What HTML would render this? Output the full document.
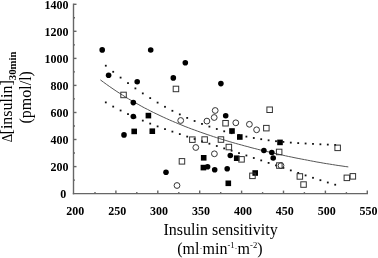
<!DOCTYPE html>
<html><head><meta charset="utf-8"><style>
html,body{margin:0;padding:0;background:#fff;}
body{width:378px;height:258px;position:relative;overflow:hidden;font-family:"Liberation Serif",serif;}
</style></head><body>
<svg width="378" height="258" viewBox="0 0 378 258" style="position:absolute;left:0;top:0;will-change:transform">
<g stroke="#666" stroke-width="1.4" fill="none">
<line x1="73.5" y1="3.6" x2="73.5" y2="194.29999999999998"/>
<line x1="72.8" y1="193.6" x2="368" y2="193.6"/>
<line x1="73.5" y1="180.1" x2="75.0" y2="180.1"/>
<line x1="73.5" y1="166.6" x2="76.5" y2="166.6"/>
<line x1="73.5" y1="153.0" x2="75.0" y2="153.0"/>
<line x1="73.5" y1="139.5" x2="76.5" y2="139.5"/>
<line x1="73.5" y1="126.0" x2="75.0" y2="126.0"/>
<line x1="73.5" y1="112.5" x2="76.5" y2="112.5"/>
<line x1="73.5" y1="98.9" x2="75.0" y2="98.9"/>
<line x1="73.5" y1="85.4" x2="76.5" y2="85.4"/>
<line x1="73.5" y1="71.9" x2="75.0" y2="71.9"/>
<line x1="73.5" y1="58.4" x2="76.5" y2="58.4"/>
<line x1="73.5" y1="44.9" x2="75.0" y2="44.9"/>
<line x1="73.5" y1="31.3" x2="76.5" y2="31.3"/>
<line x1="73.5" y1="17.8" x2="75.0" y2="17.8"/>
<line x1="73.5" y1="4.3" x2="76.5" y2="4.3"/>
<line x1="95.0" y1="193.6" x2="95.0" y2="192.1"/>
<line x1="115.9" y1="193.6" x2="115.9" y2="190.6"/>
<line x1="136.8" y1="193.6" x2="136.8" y2="192.1"/>
<line x1="157.8" y1="193.6" x2="157.8" y2="190.6"/>
<line x1="178.8" y1="193.6" x2="178.8" y2="192.1"/>
<line x1="199.7" y1="193.6" x2="199.7" y2="190.6"/>
<line x1="220.7" y1="193.6" x2="220.7" y2="192.1"/>
<line x1="241.6" y1="193.6" x2="241.6" y2="190.6"/>
<line x1="262.6" y1="193.6" x2="262.6" y2="192.1"/>
<line x1="283.5" y1="193.6" x2="283.5" y2="190.6"/>
<line x1="304.4" y1="193.6" x2="304.4" y2="192.1"/>
<line x1="325.4" y1="193.6" x2="325.4" y2="190.6"/>
<line x1="346.4" y1="193.6" x2="346.4" y2="192.1"/>
<line x1="367.3" y1="193.6" x2="367.3" y2="190.6"/>
</g>
<path d="M100.4,79.9 L103.5,82.2 L106.7,84.5 L109.8,86.7 L113.0,88.9 L116.1,91.0 L119.2,93.0 L122.4,95.0 L125.5,97.0 L128.6,98.9 L131.8,100.8 L134.9,102.6 L138.1,104.3 L141.2,106.1 L144.3,107.8 L147.5,109.4 L150.6,111.0 L153.7,112.6 L156.9,114.1 L160.0,115.6 L163.2,117.1 L166.3,118.5 L169.4,119.9 L172.6,121.3 L175.7,122.6 L178.8,123.9 L182.0,125.2 L185.1,126.5 L188.3,127.7 L191.4,128.9 L194.5,130.0 L197.7,131.2 L200.8,132.3 L204.0,133.4 L207.1,134.5 L210.2,135.5 L213.4,136.6 L216.5,137.6 L219.6,138.6 L222.8,139.6 L225.9,140.5 L229.1,141.5 L232.2,142.4 L235.3,143.3 L238.5,144.2 L241.6,145.0 L244.7,145.9 L247.9,146.7 L251.0,147.6 L254.2,148.4 L257.3,149.2 L260.4,150.0 L263.6,150.7 L266.7,151.5 L269.9,152.2 L273.0,153.0 L276.1,153.7 L279.3,154.4 L282.4,155.1 L285.5,155.8 L288.7,156.5 L291.8,157.1 L295.0,157.8 L298.1,158.4 L301.2,159.0 L304.4,159.6 L307.5,160.2 L310.6,160.8 L313.8,161.4 L316.9,162.0 L320.1,162.5 L323.2,163.1 L326.3,163.6 L329.5,164.1 L332.6,164.6 L335.7,165.1 L338.9,165.6 L342.0,166.0 L345.2,166.5 L348.3,166.9" stroke="#555" stroke-width="1" fill="none"/>
<g fill="#111"><rect x="104.9" y="64.8" width="1.8" height="1.8"/><rect x="104.9" y="101.5" width="1.8" height="1.8"/><rect x="112.3" y="70.9" width="1.8" height="1.8"/><rect x="112.3" y="105.7" width="1.8" height="1.8"/><rect x="119.7" y="76.7" width="1.8" height="1.8"/><rect x="119.7" y="109.6" width="1.8" height="1.8"/><rect x="127.1" y="82.2" width="1.8" height="1.8"/><rect x="127.1" y="113.2" width="1.8" height="1.8"/><rect x="134.5" y="87.5" width="1.8" height="1.8"/><rect x="134.5" y="116.5" width="1.8" height="1.8"/><rect x="141.9" y="92.5" width="1.8" height="1.8"/><rect x="141.9" y="119.7" width="1.8" height="1.8"/><rect x="149.3" y="97.2" width="1.8" height="1.8"/><rect x="149.3" y="122.7" width="1.8" height="1.8"/><rect x="156.7" y="101.7" width="1.8" height="1.8"/><rect x="156.7" y="125.5" width="1.8" height="1.8"/><rect x="164.1" y="105.9" width="1.8" height="1.8"/><rect x="164.1" y="128.2" width="1.8" height="1.8"/><rect x="171.5" y="109.9" width="1.8" height="1.8"/><rect x="171.5" y="130.7" width="1.8" height="1.8"/><rect x="178.9" y="113.5" width="1.8" height="1.8"/><rect x="178.9" y="133.2" width="1.8" height="1.8"/><rect x="186.3" y="117.0" width="1.8" height="1.8"/><rect x="186.3" y="135.7" width="1.8" height="1.8"/><rect x="193.7" y="120.1" width="1.8" height="1.8"/><rect x="193.7" y="138.1" width="1.8" height="1.8"/><rect x="201.1" y="123.0" width="1.8" height="1.8"/><rect x="201.1" y="140.4" width="1.8" height="1.8"/><rect x="208.5" y="125.7" width="1.8" height="1.8"/><rect x="208.5" y="142.8" width="1.8" height="1.8"/><rect x="215.9" y="128.1" width="1.8" height="1.8"/><rect x="215.9" y="145.1" width="1.8" height="1.8"/><rect x="223.3" y="130.4" width="1.8" height="1.8"/><rect x="223.3" y="147.5" width="1.8" height="1.8"/><rect x="230.7" y="132.3" width="1.8" height="1.8"/><rect x="230.7" y="149.8" width="1.8" height="1.8"/><rect x="238.1" y="134.1" width="1.8" height="1.8"/><rect x="238.1" y="152.2" width="1.8" height="1.8"/><rect x="245.5" y="135.7" width="1.8" height="1.8"/><rect x="245.5" y="154.6" width="1.8" height="1.8"/><rect x="252.9" y="137.1" width="1.8" height="1.8"/><rect x="252.9" y="157.1" width="1.8" height="1.8"/><rect x="260.3" y="138.3" width="1.8" height="1.8"/><rect x="260.3" y="159.5" width="1.8" height="1.8"/><rect x="267.7" y="139.4" width="1.8" height="1.8"/><rect x="267.7" y="162.0" width="1.8" height="1.8"/><rect x="275.1" y="140.3" width="1.8" height="1.8"/><rect x="275.1" y="164.5" width="1.8" height="1.8"/><rect x="282.5" y="141.0" width="1.8" height="1.8"/><rect x="282.5" y="167.0" width="1.8" height="1.8"/><rect x="289.9" y="141.7" width="1.8" height="1.8"/><rect x="289.9" y="169.5" width="1.8" height="1.8"/><rect x="297.3" y="142.2" width="1.8" height="1.8"/><rect x="297.3" y="172.0" width="1.8" height="1.8"/><rect x="304.7" y="142.6" width="1.8" height="1.8"/><rect x="304.7" y="174.5" width="1.8" height="1.8"/><rect x="312.1" y="143.0" width="1.8" height="1.8"/><rect x="312.1" y="176.9" width="1.8" height="1.8"/><rect x="319.5" y="143.4" width="1.8" height="1.8"/><rect x="319.5" y="179.3" width="1.8" height="1.8"/><rect x="326.9" y="143.7" width="1.8" height="1.8"/><rect x="326.9" y="181.6" width="1.8" height="1.8"/><rect x="334.3" y="144.0" width="1.8" height="1.8"/><rect x="334.3" y="183.8" width="1.8" height="1.8"/></g>
<g fill="#000"><circle cx="102.2" cy="49.9" r="2.8"/><circle cx="150.7" cy="50.0" r="2.8"/><circle cx="185.3" cy="62.8" r="2.8"/><circle cx="108.6" cy="75.3" r="2.8"/><circle cx="137.2" cy="81.7" r="2.8"/><circle cx="173.3" cy="77.9" r="2.8"/><circle cx="220.9" cy="83.6" r="2.8"/><circle cx="133.3" cy="102.6" r="2.8"/><circle cx="133.3" cy="116.5" r="2.8"/><circle cx="124.0" cy="134.9" r="2.8"/><circle cx="225.7" cy="115.7" r="2.8"/><circle cx="230.3" cy="155.5" r="2.8"/><circle cx="207.6" cy="166.7" r="2.8"/><circle cx="214.7" cy="169.8" r="2.8"/><circle cx="227.2" cy="168.8" r="2.8"/><circle cx="166.0" cy="172.3" r="2.8"/><circle cx="263.9" cy="150.5" r="2.8"/><circle cx="271.8" cy="152.5" r="2.8"/><circle cx="273.2" cy="158.0" r="2.8"/></g>
<g fill="#000"><rect x="145.6" y="112.8" width="5.6" height="5.6"/><rect x="131.4" y="128.6" width="5.6" height="5.6"/><rect x="149.5" y="128.4" width="5.6" height="5.6"/><rect x="229.2" y="128.2" width="5.6" height="5.6"/><rect x="237.0" y="134.2" width="5.6" height="5.6"/><rect x="200.9" y="155.0" width="5.6" height="5.6"/><rect x="233.9" y="155.4" width="5.6" height="5.6"/><rect x="200.6" y="164.8" width="5.6" height="5.6"/><rect x="225.5" y="180.5" width="5.6" height="5.6"/><rect x="252.4" y="170.2" width="5.6" height="5.6"/><rect x="277.2" y="139.6" width="5.6" height="5.6"/></g>
<g fill="none" stroke="#333" stroke-width="1"><circle cx="180.7" cy="120.5" r="2.9"/><circle cx="215.2" cy="110.5" r="2.9"/><circle cx="214.2" cy="117.5" r="2.9"/><circle cx="206.9" cy="121.1" r="2.9"/><circle cx="235.8" cy="122.8" r="2.9"/><circle cx="249.4" cy="124.3" r="2.9"/><circle cx="256.6" cy="129.8" r="2.9"/><circle cx="195.8" cy="147.5" r="2.9"/><circle cx="214.4" cy="153.8" r="2.9"/><circle cx="177.0" cy="185.5" r="2.9"/><circle cx="281.0" cy="165.6" r="2.9"/></g>
<g fill="none" stroke="#333" stroke-width="1"><rect x="120.8" y="92.2" width="5.5" height="5.5"/><rect x="173.2" y="86.2" width="5.5" height="5.5"/><rect x="222.8" y="120.5" width="5.5" height="5.5"/><rect x="266.9" y="107.0" width="5.5" height="5.5"/><rect x="263.6" y="125.4" width="5.5" height="5.5"/><rect x="189.6" y="136.9" width="5.5" height="5.5"/><rect x="201.9" y="136.8" width="5.5" height="5.5"/><rect x="218.2" y="136.8" width="5.5" height="5.5"/><rect x="226.1" y="144.3" width="5.5" height="5.5"/><rect x="238.8" y="156.6" width="5.5" height="5.5"/><rect x="276.4" y="149.2" width="5.5" height="5.5"/><rect x="276.6" y="162.8" width="5.5" height="5.5"/><rect x="179.2" y="158.6" width="5.5" height="5.5"/><rect x="249.7" y="173.1" width="5.5" height="5.5"/><rect x="297.1" y="173.7" width="5.5" height="5.5"/><rect x="300.8" y="181.8" width="5.5" height="5.5"/><rect x="334.9" y="145.1" width="5.5" height="5.5"/><rect x="344.1" y="175.1" width="5.5" height="5.5"/><rect x="350.1" y="173.6" width="5.5" height="5.5"/></g>
<g font-family="Liberation Serif" font-weight="bold" font-size="12" fill="#000"><text x="66.2" y="198.3" text-anchor="end">0</text><text x="68.6" y="171.2" text-anchor="end">200</text><text x="68.6" y="144.1" text-anchor="end">400</text><text x="68.6" y="117.1" text-anchor="end">600</text><text x="68.6" y="90.0" text-anchor="end">800</text><text x="68.6" y="62.9" text-anchor="end">1000</text><text x="68.6" y="35.8" text-anchor="end">1200</text><text x="68.6" y="8.7" text-anchor="end">1400</text><text x="75.3" y="214.6" text-anchor="middle">200</text><text x="117.2" y="214.6" text-anchor="middle">250</text><text x="159.1" y="214.6" text-anchor="middle">300</text><text x="201.0" y="214.6" text-anchor="middle">350</text><text x="242.9" y="214.6" text-anchor="middle">400</text><text x="284.8" y="214.6" text-anchor="middle">450</text><text x="326.7" y="214.6" text-anchor="middle">500</text><text x="368.6" y="214.6" text-anchor="middle">550</text></g>
<g font-family="Liberation Serif" font-size="16" fill="#000" text-anchor="middle">
<text x="220.6" y="235">Insulin sensitivity</text>
<text x="219.9" y="253.9">(ml<tspan font-size="9" dy="-2.5">·</tspan><tspan dy="2.5">min</tspan><tspan font-size="8.6" dy="-6">-1</tspan><tspan font-size="9" dy="3.5">·</tspan><tspan dy="2.5">m</tspan><tspan font-size="8.6" dy="-6">-2</tspan><tspan dy="6">)</tspan></text>
</g>
<g font-family="Liberation Serif" font-size="16" fill="#000" text-anchor="middle">
<text transform="translate(11.6,142.2) rotate(-90) scale(0.82,0.93)" text-anchor="start">Δ</text>
<text transform="translate(11.8,134.4) rotate(-90)" text-anchor="start">[insulin]<tspan font-size="10.8" font-weight="bold" dy="3.8">30min</tspan></text>
<text transform="translate(31.4,97.3) rotate(-90)">(pmol/l)</text>
</g>
</svg>
</body></html>
